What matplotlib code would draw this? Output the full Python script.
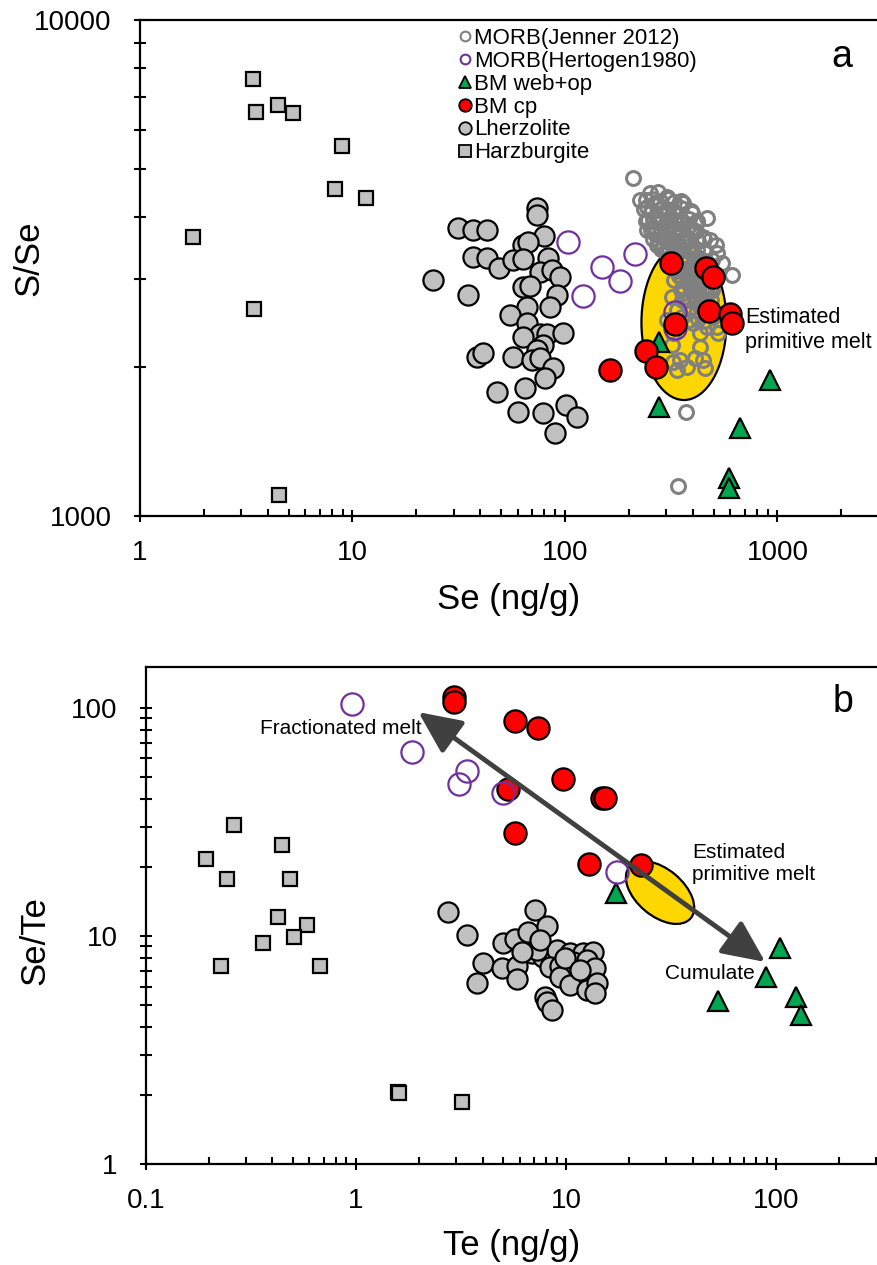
import matplotlib
matplotlib.use('Agg')
import matplotlib.pyplot as plt
from matplotlib.lines import Line2D
from matplotlib.patches import Ellipse
from matplotlib.transforms import ScaledTranslation
from matplotlib.ticker import LogLocator, NullFormatter

plt.rcParams['font.family'] = ['Liberation Sans', 'DejaVu Sans']

# ---- panel a: Se vs S/Se ----
morbj_se = [208, 251, 274, 302, 359, 466, 243, 265, 289, 322, 396, 418, 246, 260, 243, 280,
            312, 348, 379, 446, 481, 519, 611, 375, 322, 289, 271, 348, 400, 432, 359, 387,
            418, 359, 400, 466, 375, 432, 497, 525, 466, 400, 355, 319, 337, 302, 322, 319,
            432, 348, 322, 409, 446, 337, 375, 456, 432, 519, 466, 371, 340, 312, 337, 375,
            396, 348, 418, 379, 432, 466, 359, 225, 515, 548, 481,
            255, 270, 285, 300, 315, 330, 340, 355, 370, 385, 300, 310, 330, 350, 365, 380,
            395, 410, 425, 440, 265, 290, 320, 345, 360,
            240, 258, 279, 305, 327, 352,
            236, 256, 283, 300, 331, 353, 390,
            241, 259, 278, 304, 326, 358, 385, 420,
            255, 282, 300, 332, 352, 390, 415,
            259, 278, 305, 326, 357, 384, 421, 452,
            283, 300, 331, 352, 389, 416, 458,
            304, 327, 357, 385, 420, 454, 490,
            331, 353, 390, 416, 458, 494,
            327, 357, 385, 421, 452, 490,
            352, 390, 416, 458, 492,
            357, 385, 420, 454, 488,
            389, 418, 456, 494,
            385, 421, 452]
morbj_sse = [4796, 4479, 4500, 4397, 4276, 3990, 4198, 4276, 4198, 4140, 4083, 3916, 3953, 3826,
             3773, 3898, 3990, 3898, 3826, 3652, 3602, 3391, 3061, 3652, 3721, 3652, 3519, 3486,
             3439, 3283, 3329, 3177, 3033, 2991, 2854, 2815, 2725, 2638, 2519, 2339, 2404, 2450,
             2519, 2763, 2602, 2484, 2339, 2212, 2192, 2063, 2044, 2083, 2063, 1970, 1997, 1988,
             2339, 2404, 2991, 1621, 1149, 3551, 3391, 3237, 3090, 3133, 2895, 2949, 2763, 2688,
             2815, 4336, 3519, 3237, 2854,
             4100, 4000, 3950, 4050, 3850, 3800, 3700, 3600, 3550, 3500, 3600, 3450, 3350, 3250,
             3150, 3050, 3000, 2950, 2900, 2850, 3700, 3500, 3300, 3050, 2900,
             4330, 4360, 4310, 4350, 4300, 4320,
             4150, 4120, 4160, 4130, 4110, 4170, 4120,
             3940, 3970, 3930, 3960, 3945, 3920, 3970, 3940,
             3780, 3760, 3790, 3750, 3770, 3790, 3760,
             3610, 3590, 3620, 3600, 3580, 3615, 3590, 3610,
             3450, 3420, 3440, 3460, 3430, 3445, 3425,
             3290, 3270, 3300, 3280, 3290, 3270, 3285,
             3140, 3120, 3150, 3130, 3140, 3120,
             2990, 3000, 2980, 3000, 2985, 2995,
             2860, 2845, 2865, 2850, 2860,
             2720, 2735, 2715, 2730, 2720,
             2610, 2595, 2605, 2600,
             2480, 2490, 2475]

morbh_se = [103.7, 148.9, 181.5, 213.3, 121.9, 329.3, 329.3]
morbh_sse = [3573, 3183, 2981, 3373, 2782, 2582, 2388]

web_se = [278, 278, 922, 666, 593, 593]
web_sse = [2246, 1661, 1880, 1502, 1191, 1137]

cp_se = [314, 461, 499, 478, 597, 609, 330, 240, 268, 163]
cp_sse = [3232, 3158, 3028, 2594, 2553, 2446, 2438, 2154, 1994, 1970]

lherz_se = [24.0, 31.5, 36.8, 43.1, 73.6, 73.6, 79.6, 63.7, 67.2, 36.8, 43.1, 49.1, 57.1, 63.2,
            83.4, 76.3, 86.6, 94.7, 35.1, 63.7, 68.4, 91.4, 85.0, 66.0, 55.1, 66.0, 76.3, 82.0,
            98.2, 63.7, 79.0, 73.6, 38.4, 41.3, 57.1, 69.7, 76.3, 88.1, 80.5, 47.7, 64.8, 60.3,
            79.0, 100.8, 113.5, 89.7]
lherz_sse = [2994, 3802, 3773, 3773, 4170, 4045, 3668, 3516, 3574, 3334, 3308, 3158, 3281, 3292,
             3308, 3109, 3133, 3037, 2790, 2899, 2905, 2790, 2642, 2642, 2541, 2446, 2333, 2333,
             2336, 2299, 2213, 2161, 2094, 2134, 2094, 2063, 2079, 1987, 1895, 1776, 1809, 1623,
             1611, 1674, 1581, 1472]

harz_se = [3.40, 3.51, 4.46, 5.25, 8.93, 8.27, 11.6, 1.78, 3.44, 4.51]
harz_sse = [7603, 6525, 6740, 6494, 5570, 4565, 4377, 3652, 2614, 1102]

# ---- panel b: Te vs Se/Te ----
morbh_te = [0.96, 1.853, 3.37, 3.10, 5.03, 17.5]
morbh_sete = [104.1, 64.3, 53.1, 46.4, 42.3, 19.0]

web_te = [17.2, 104.5, 89.5, 53.1, 124.5, 131.1]
web_sete = [15.4, 8.83, 6.63, 5.20, 5.42, 4.50]

cp_te = [2.91, 2.91, 5.68, 7.33, 9.71, 14.8, 15.3, 5.31, 5.71, 12.8, 22.7]
cp_sete = [112.1, 106.6, 87.7, 82.0, 48.8, 40.4, 40.4, 44.1, 28.2, 20.7, 20.5]

lherz_te = [2.74, 3.38, 7.12, 5.01, 5.71, 6.59, 8.12, 4.03, 4.96, 5.84, 3.77, 5.84, 6.89, 7.77,
            9.06, 10.45, 12.05, 13.45, 8.39, 9.36, 10.8, 12.6, 13.75, 9.36, 10.45, 12.6, 14.05,
            13.75, 7.94, 8.12, 8.57, 7.28, 6.17, 7.52, 9.89, 11.66]
lherz_sete = [12.75, 10.1, 13.0, 9.32, 9.70, 10.4, 11.06, 7.61, 7.24, 7.39, 6.22, 6.48, 8.42, 8.09,
              8.68, 8.42, 8.42, 8.51, 7.31, 7.39, 7.69, 7.85, 7.24, 6.61, 6.10, 5.80, 6.22,
              5.62, 5.40, 5.13, 4.74, 8.68, 8.51, 9.60, 8.01, 7.09]

harz_te = [0.261, 0.443, 0.194, 0.244, 0.485, 0.424, 0.582, 0.507, 0.362, 0.227, 0.676, 1.59, 1.60, 3.20]
harz_sete = [30.5, 25.1, 21.7, 17.7, 17.7, 12.1, 11.2, 9.87, 9.29, 7.41, 7.41, 2.075, 2.04, 1.876]

GRAY = '#c0c0c0'
PURPLE = '#7030a0'
GREEN = '#00a650'
YELLOW = '#ffd700'
EW = 1.6

fig = plt.figure(figsize=(8.77, 12.65), dpi=100)
ax1 = fig.add_axes([0.1596, 0.5921, 0.8404, 0.3921])
ax2 = fig.add_axes([0.1665, 0.0798, 0.8335, 0.3929])


def style_axis(ax, xlim, ylim, xt, yt):
    ax.set_xscale('log')
    ax.set_yscale('log')
    ax.set_xlim(*xlim)
    ax.set_ylim(*ylim)
    ax.set_xticks(xt)
    ax.set_xticklabels(['%g' % v for v in xt])
    ax.set_yticks(yt)
    ax.set_yticklabels(['%g' % v for v in yt])
    ax.xaxis.set_minor_locator(LogLocator(base=10, subs=range(2, 10)))
    ax.yaxis.set_minor_locator(LogLocator(base=10, subs=range(2, 10)))
    ax.xaxis.set_minor_formatter(NullFormatter())
    ax.yaxis.set_minor_formatter(NullFormatter())
    ax.spines['right'].set_visible(False)
    for s in ['left', 'bottom', 'top']:
        ax.spines[s].set_linewidth(1.6)
    ax.tick_params(axis='x', which='major', direction='inout', length=9, width=1.5,
                   labelsize=20, pad=13)
    ax.tick_params(axis='x', which='minor', direction='in', length=5, width=1.5)
    ax.tick_params(axis='y', which='major', direction='inout', length=9, width=1.5,
                   labelsize=20, pad=16)
    ax.tick_params(axis='y', which='minor', direction='inout', length=9, width=1.5)


def add_ellipse(ax, x, y, w, h, angle=0):
    trans = fig.dpi_scale_trans + ScaledTranslation(x, y, ax.transData)
    e = Ellipse((0, 0), w, h, angle=angle, facecolor=YELLOW, edgecolor='black',
                linewidth=1.6, transform=trans, zorder=1)
    ax.add_patch(e)


# panel a
style_axis(ax1, (1, 2940), (1000, 10000), [1, 10, 100, 1000], [1000, 10000])
add_ellipse(ax1, 363, 2455, 0.85, 1.55)
ax1.plot(morbj_se, morbj_sse, 'o', ms=10, mfc='none', mec='#808080', mew=2.2, ls='none', zorder=2)
ax1.plot(lherz_se, lherz_sse, 'o', ms=14.5, mfc=GRAY, mec='black', mew=EW, ls='none', zorder=3)
ax1.plot(harz_se, harz_sse, 's', ms=10, mfc=GRAY, mec='black', mew=EW, ls='none', zorder=3)
ax1.plot(morbh_se, morbh_sse, 'o', ms=16, mfc='none', mec=PURPLE, mew=1.6, ls='none', zorder=4)
ax1.plot(web_se, web_sse, '^', ms=15, mfc=GREEN, mec='black', mew=EW, ls='none', zorder=5)
ax1.plot(cp_se, cp_sse, 'o', ms=16, mfc='red', mec='black', mew=EW, ls='none', zorder=6)

ax1.text(703, 2371, 'Estimated\nprimitive melt', fontsize=15.5, ha='left', va='center', zorder=7)
ax1.text(0.9525, 0.925, 'a', transform=ax1.transAxes, fontsize=27, ha='center', va='center')
ax1.set_xlabel('Se (ng/g)', fontsize=25)
ax1.set_ylabel('S/Se', fontsize=25)
ax1.xaxis.set_label_coords(0.5, -0.135)
ax1.yaxis.set_label_coords(-0.128, 0.52)

handles = [
    Line2D([], [], marker='o', ls='none', ms=7, mfc='none', mec='#808080', mew=1.5),
    Line2D([], [], marker='o', ls='none', ms=7, mfc='none', mec=PURPLE, mew=1.5),
    Line2D([], [], marker='^', ls='none', ms=9, mfc=GREEN, mec='black', mew=1.3),
    Line2D([], [], marker='o', ls='none', ms=9, mfc='red', mec='black', mew=1.3),
    Line2D([], [], marker='o', ls='none', ms=9, mfc=GRAY, mec='black', mew=1.3),
    Line2D([], [], marker='s', ls='none', ms=8, mfc=GRAY, mec='black', mew=1.3),
]
labels = ['MORB(Jenner 2012)', 'MORB(Hertogen1980)', 'BM web+op', 'BM cp', 'Lherzolite', 'Harzburgite']
ax1.legend(handles, labels, loc='upper left', bbox_to_anchor=(0.4315, 0.984), frameon=False,
           fontsize=16, handlelength=0.6, handletextpad=0.12, labelspacing=0.085,
           borderpad=0, borderaxespad=0)

# panel b
style_axis(ax2, (0.1, 302), (1, 151), [0.1, 1, 10, 100], [1, 10, 100])
add_ellipse(ax2, 28.0, 15.5, 0.80, 0.47, angle=-40)
ax2.plot(lherz_te, lherz_sete, 'o', ms=14.5, mfc=GRAY, mec='black', mew=EW, ls='none', zorder=3)
ax2.plot(harz_te, harz_sete, 's', ms=10, mfc=GRAY, mec='black', mew=EW, ls='none', zorder=3)
ax2.plot(web_te, web_sete, '^', ms=15, mfc=GREEN, mec='black', mew=EW, ls='none', zorder=4)
ax2.plot(cp_te, cp_sete, 'o', ms=16, mfc='red', mec='black', mew=EW, ls='none', zorder=5)
ax2.plot(morbh_te, morbh_sete, 'o', ms=16, mfc='none', mec=PURPLE, mew=1.6, ls='none', zorder=6)

ax2.annotate('', xy=(1.98, 95.8), xytext=(88.7, 7.69),
             arrowprops=dict(arrowstyle='<|-|>,head_length=1.3,head_width=0.6', color='#404040',
                             lw=3.5, shrinkA=0, shrinkB=0, mutation_scale=20), zorder=7)
ax2.text(2.06, 80.9, 'Fractionated melt', fontsize=15, ha='right', va='center', zorder=8)
ax2.text(39.8, 20.7, 'Estimated\nprimitive melt', fontsize=15, ha='left', va='center', zorder=8)
ax2.text(79.4, 6.88, 'Cumulate', fontsize=15, ha='right', va='center', zorder=8)
ax2.text(0.9535, 0.93, 'b', transform=ax2.transAxes, fontsize=27, ha='center', va='center')
ax2.set_xlabel('Te (ng/g)', fontsize=25)
ax2.set_ylabel('Se/Te', fontsize=25)
ax2.xaxis.set_label_coords(0.5, -0.13)
ax2.yaxis.set_label_coords(-0.13, 0.45)

fig.savefig('out.png', dpi=100)
